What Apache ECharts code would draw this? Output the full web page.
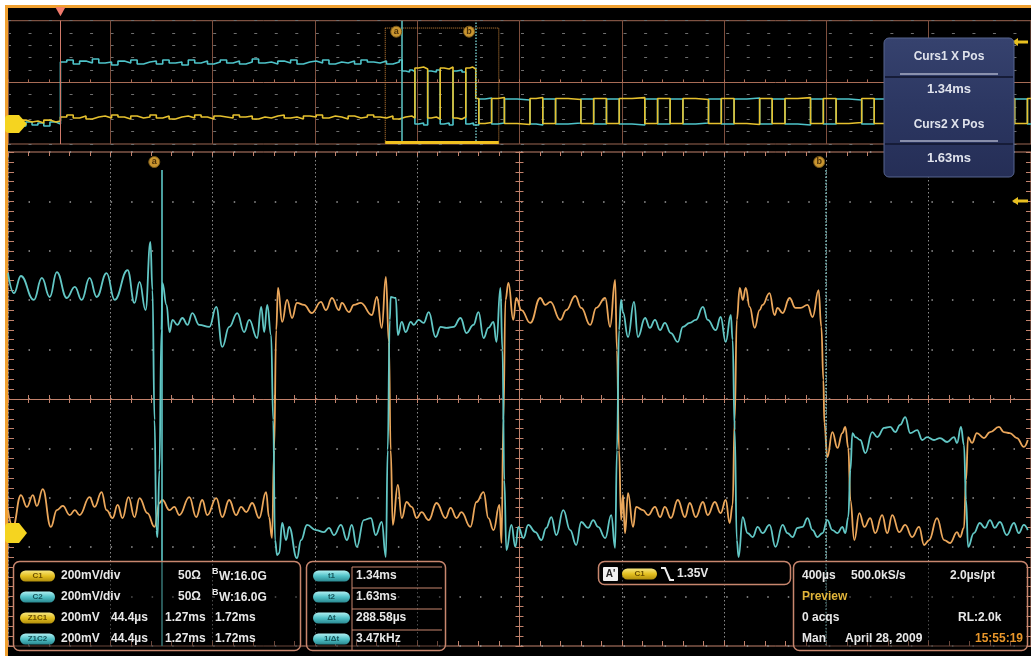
<!DOCTYPE html>
<html><head><meta charset="utf-8">
<script src="https://cdn.jsdelivr.net/npm/echarts@6/dist/echarts.min.js"></script>
<style>html,body{margin:0;padding:0;background:#fff;}#c{width:1031px;height:656px;}</style>
</head><body><div id="c"></div><script>
// ---------------- data (time in µs after trigger, level in mV) ----------------
const mainC2 = [[1270.0,510],[1272.6,429],[1275.6,498],[1281.2,401],[1284.7,490],[1288.1,413],[1291.2,514],[1295.5,409],[1299.0,454],[1302.0,401],[1305.4,490],[1308.5,413],[1312.8,510],[1316.3,401],[1321.9,522],[1324.9,389],[1327.1,474],[1329.7,360],[1331.8,636],[1332.7,441],[1333.6,-85],[1334.4,-531],[1334.9,-559],[1335.7,-288],[1336.6,279],[1337.0,470],[1338.8,381],[1340.1,271],[1341.4,320],[1343.5,300],[1345.7,328],[1347.9,300],[1350.0,348],[1353.0,300],[1357.4,292],[1360.4,373],[1363.0,211],[1366.0,292],[1369.5,348],[1372.5,271],[1374.7,320],[1378.1,247],[1379.9,373],[1381.2,271],[1382.5,381],[1384.2,259],[1385.1,-85],[1385.9,-571],[1386.8,-632],[1387.7,-624],[1389.0,-502],[1390.7,-571],[1392.0,-518],[1395.4,-644],[1397.2,-571],[1399.8,-510],[1403.7,-531],[1407.1,-539],[1409.3,-522],[1411.5,-551],[1414.5,-510],[1417.1,-571],[1419.2,-510],[1421.4,-599],[1424.4,-490],[1427.5,-482],[1429.6,-551],[1432.2,-498],[1434.0,-640],[1434.8,-207],[1435.7,320],[1436.1,413],[1438.3,409],[1439.2,259],[1440.9,312],[1442.6,271],[1444.8,312],[1446.1,300],[1448.2,320],[1450.4,308],[1452.6,352],[1455.6,251],[1457.8,292],[1460.3,288],[1463.4,292],[1466.4,328],[1469.0,267],[1472.0,300],[1474.2,352],[1476.4,247],[1478.5,288],[1480.7,312],[1482.0,231],[1483.7,450],[1484.6,198],[1485.4,-328],[1486.3,-612],[1488.5,-510],[1490.2,-599],[1491.5,-518],[1493.7,-563],[1495.8,-510],[1498.9,-539],[1501.5,-571],[1503.6,-522],[1505.8,-478],[1508.0,-551],[1511.0,-450],[1514.0,-531],[1516.6,-591],[1518.8,-498],[1521.8,-522],[1524.0,-490],[1526.1,-518],[1529.2,-563],[1531.8,-470],[1533.5,-603],[1534.3,-207],[1535.2,279],[1536.1,401],[1536.9,352],[1539.1,251],[1541.7,393],[1543.4,251],[1546.5,328],[1548.6,288],[1550.8,320],[1553.0,279],[1555.1,308],[1557.7,267],[1560.7,231],[1562.9,292],[1565.9,308],[1568.5,320],[1571.6,373],[1573.7,320],[1577.2,279],[1579.3,332],[1581.5,231],[1583.7,340],[1584.5,239],[1585.4,-126],[1586.3,-571],[1587.1,-640],[1588.9,-478],[1591.0,-543],[1593.2,-559],[1595.4,-518],[1597.5,-543],[1600.5,-510],[1603.1,-599],[1606.2,-510],[1608.3,-543],[1610.5,-559],[1612.7,-522],[1614.8,-518],[1617.0,-482],[1619.2,-531],[1621.3,-559],[1623.5,-543],[1625.6,-490],[1627.8,-531],[1630.0,-543],[1632.1,-518],[1633.4,-543],[1634.7,-478],[1635.6,-288],[1636.5,-138],[1637.8,-154],[1639.9,-166],[1642.1,-219],[1645.1,-134],[1647.3,-154],[1650.3,-117],[1652.9,-113],[1655.1,-134],[1657.2,-105],[1659.4,-73],[1661.6,-138],[1664.6,-126],[1666.8,-166],[1668.9,-154],[1671.9,-166],[1674.5,-158],[1677.6,-174],[1680.6,-154],[1681.9,-178],[1683.6,-113],[1684.9,-186],[1685.8,-409],[1686.7,-599],[1689.2,-543],[1691.8,-502],[1694.0,-522],[1696.2,-490],[1698.3,-522],[1700.5,-498],[1703.5,-551],[1706.6,-502],[1708.7,-543],[1710.9,-510],[1712.6,-531]];

const mainC1 = [[1270.0,-450],[1272.1,-518],[1275.6,-389],[1278.2,-437],[1280.8,-389],[1282.5,-433],[1285.1,-365],[1288.6,-518],[1291.2,-450],[1293.8,-433],[1296.8,-470],[1299.0,-450],[1301.1,-470],[1305.4,-397],[1307.6,-437],[1310.6,-377],[1312.8,-450],[1315.4,-482],[1317.6,-429],[1319.7,-482],[1322.3,-397],[1324.9,-478],[1327.1,-401],[1330.5,-462],[1333.6,-518],[1335.7,-421],[1337.0,-409],[1340.1,-450],[1342.2,-437],[1344.4,-470],[1348.7,-397],[1351.7,-478],[1354.3,-409],[1356.5,-470],[1360.4,-401],[1363.0,-478],[1366.0,-409],[1369.0,-470],[1371.2,-437],[1373.4,-458],[1376.0,-421],[1379.0,-482],[1382.0,-377],[1383.3,-478],[1384.6,-563],[1385.5,-207],[1386.4,279],[1387.2,450],[1389.0,312],[1391.1,401],[1393.3,328],[1395.4,389],[1398.5,381],[1401.9,348],[1405.8,393],[1408.0,360],[1410.6,409],[1413.6,360],[1414.9,389],[1418.0,352],[1420.1,381],[1423.1,389],[1427.9,340],[1430.1,413],[1432.2,288],[1434.0,494],[1435.3,231],[1436.1,-207],[1437.0,-510],[1439.2,-348],[1440.9,-482],[1443.0,-417],[1445.2,-437],[1447.4,-482],[1449.5,-458],[1452.6,-490],[1456.0,-421],[1459.9,-482],[1462.1,-441],[1464.7,-482],[1466.8,-458],[1470.7,-518],[1473.3,-417],[1476.4,-377],[1478.5,-482],[1480.7,-531],[1483.3,-429],[1484.2,-583],[1485.0,-85],[1485.9,401],[1487.2,470],[1489.3,320],[1490.6,409],[1492.8,360],[1496.7,308],[1501.0,409],[1503.2,381],[1505.4,393],[1509.7,320],[1512.3,360],[1516.2,417],[1518.8,369],[1522.7,300],[1525.3,369],[1529.2,409],[1531.3,292],[1533.5,482],[1534.3,198],[1535.2,-207],[1536.1,-490],[1536.9,-389],[1537.8,-543],[1539.1,-381],[1541.3,-518],[1542.6,-437],[1545.6,-450],[1547.8,-470],[1550.8,-437],[1553.0,-478],[1555.1,-437],[1557.7,-482],[1560.7,-409],[1563.8,-478],[1565.9,-421],[1568.5,-478],[1571.6,-417],[1573.7,-470],[1576.8,-417],[1579.3,-462],[1581.5,-409],[1583.2,-502],[1584.5,-429],[1585.4,-85],[1586.3,320],[1587.6,450],[1588.9,401],[1590.2,450],[1591.9,373],[1594.1,288],[1596.2,360],[1597.5,381],[1600.5,429],[1602.7,340],[1604.0,369],[1606.2,348],[1609.2,409],[1611.8,369],[1614.0,369],[1617.0,381],[1619.2,332],[1621.8,441],[1623.0,292],[1623.9,77],[1624.3,-97],[1625.6,-235],[1627.8,-134],[1630.0,-198],[1632.1,-138],[1633.4,-113],[1634.7,-198],[1635.6,-409],[1637.3,-571],[1639.5,-462],[1641.7,-518],[1644.2,-482],[1646.4,-543],[1649.4,-470],[1651.6,-543],[1653.8,-470],[1656.8,-539],[1659.4,-510],[1662.4,-559],[1665.4,-518],[1667.6,-591],[1669.8,-571],[1673.2,-482],[1676.3,-571],[1678.9,-583],[1681.9,-539],[1683.2,-559],[1684.9,-522],[1685.8,-328],[1686.7,-154],[1688.4,-178],[1690.5,-138],[1693.6,-158],[1696.2,-134],[1700.1,-113],[1702.2,-134],[1704.8,-138],[1707.9,-158],[1710.9,-194],[1712.6,-166]];

const overviewC2 = [[-205,-693],[-182,-660],[-158,-709],[-135,-644],[-111,-693],[-88,-660],[-65,-709],[-41,-644],[-18,-676],[0,329],[25,362],[50,297],[75,345],[100,313],[125,378],[150,313],[175,329],[200,281],[225,345],[250,313],[275,362],[300,297],[325,329],[350,345],[375,297],[400,362],[425,313],[450,329],[475,281],[500,362],[525,313],[550,345],[575,297],[600,329],[625,362],[650,313],[675,345],[700,297],[725,329],[750,378],[775,313],[800,329],[825,297],[850,345],[875,313],[900,362],[925,297],[950,329],[975,345],[1000,313],[1025,362],[1050,297],[1075,329],[1100,313],[1125,345],[1150,297],[1175,362],[1200,329],[1225,313],[1250,345],[1275,297],[1300,329],[1325,362],[1336,183],[1350,167],[1365,200],[1375,175],[1386,-676],[1400,-660],[1420,-693],[1436,183],[1450,167],[1470,200],[1485,-676],[1500,-660],[1520,-693],[1535,183],[1550,200],[1570,167],[1585,-676],[1600,-660],[1615,-693],[1636,-271],[1660,-255],[1686,-676],[1710,-660],[1736,-271],[1786,-287],[1836,-676],[1860,-693],[1886,-271],[1936,-676],[1985,-660],[2035,-271],[2085,-676],[2135,-271],[2185,-676],[2235,-693],[2285,-271],[2335,-676],[2384,-271],[2434,-676],[2484,-660],[2534,-271],[2584,-676],[2634,-271],[2684,-255],[2734,-676],[2783,-271],[2833,-676],[2883,-693],[2933,-271],[2983,-676],[3033,-271],[3083,-287],[3133,-676],[3182,-271],[3232,-255],[3282,-676],[3332,-271],[3382,-676],[3432,-660],[3482,-271],[3532,-676],[3581,-271],[3631,-287],[3681,-676],[3731,-271],[3781,-676],[3795,-676]];

const overviewC1 = [[-205,-628],[-182,-660],[-158,-612],[-135,-644],[-111,-628],[-88,-660],[-65,-612],[-41,-644],[-18,-628],[0,-563],[25,-530],[50,-579],[75,-547],[100,-595],[125,-563],[150,-547],[175,-579],[200,-530],[225,-563],[250,-595],[275,-547],[300,-579],[325,-563],[350,-530],[375,-579],[400,-547],[425,-595],[450,-563],[475,-547],[500,-579],[525,-530],[550,-563],[575,-595],[600,-547],[625,-563],[650,-579],[675,-530],[700,-563],[725,-547],[750,-595],[775,-563],[800,-579],[825,-547],[850,-530],[875,-579],[900,-563],[925,-595],[950,-547],[975,-563],[1000,-530],[1025,-579],[1050,-547],[1075,-563],[1100,-595],[1125,-547],[1150,-579],[1175,-563],[1200,-530],[1225,-563],[1250,-579],[1275,-547],[1300,-595],[1325,-563],[1350,-547],[1375,-579],[1386,232],[1400,248],[1420,216],[1436,-579],[1450,-563],[1470,-595],[1485,232],[1500,216],[1520,248],[1535,-579],[1550,-595],[1570,-563],[1585,232],[1600,248],[1612,216],[1624,-263],[1636,-668],[1660,-652],[1686,-263],[1710,-247],[1736,-668],[1786,-684],[1836,-263],[1860,-247],[1886,-668],[1936,-263],[1985,-279],[2035,-668],[2085,-263],[2135,-668],[2185,-263],[2235,-247],[2285,-668],[2335,-263],[2384,-668],[2434,-263],[2484,-279],[2534,-668],[2584,-263],[2634,-668],[2684,-684],[2734,-263],[2783,-668],[2833,-263],[2883,-247],[2933,-668],[2983,-263],[3033,-668],[3083,-652],[3133,-263],[3182,-668],[3232,-684],[3282,-263],[3332,-668],[3382,-263],[3432,-279],[3482,-668],[3532,-263],[3581,-668],[3631,-652],[3681,-263],[3731,-668],[3781,-263],[3795,-263]];

const cursor1 = 1336.52;          // µs
const cursor2 = 1625.10;          // µs
const zoomStart = 1270, zoomEnd = 1714;          // main window, µs
const recordStart = -205, recordEnd = 3795;       // overview record, µs
const triggerTime = 0;
const zoomBoxTop = 881, zoomBoxBottom = -985, zoomBarLevel = -965;   // mV on overview
const cursorLineTop = 927;                                           // mV on main view
const c1GroundMain = -543, c1GroundOverview = -676;                  // mV
const trigLevelMain = 802, trigLevelOverview = 654;                  // mV

const channelRows = [['C1','200mV/div','50Ω','W:16.0G'],['C2','200mV/div','50Ω','W:16.0G']];
const zoomRows = [['Z1C1','200mV','44.4µs','1.27ms','1.72ms'],['Z1C2','200mV','44.4µs','1.27ms','1.72ms']];
const measLabels = ['t1','t2','Δt','1/Δt'];
const acqRows = [['400µs','500.0kS/s','2.0µs/pt'],['Preview'],['0 acqs','RL:2.0k'],['Man','April 28, 2009','15:55:19']];
const trigInfo = ["A'", 'C1', '1.35V'];

// ---------------- styling helpers ----------------
const FONT = '"Liberation Sans", Arial, sans-serif';
const SALMON = '#c2826c';
const CYAN = '#62c7c5', ORANGE = '#eba75b';
function T(x, y, s, size, color, align) {
  return {type:'text', x:x, y:y, z:120, silent:true, style:{text:s, fill:color||'#e8e8e8',
    font:'bold '+(size||12)+'px '+FONT, textAlign:align||'left', textVerticalAlign:'middle',
    align:align||'left', verticalAlign:'middle'}};
}
function R(x,y,w,h,r,fill,stroke,lw,z){ return {type:'rect', z:z||100, silent:true, shape:{x:x,y:y,width:w,height:h,r:r}, style:{fill:fill, stroke:stroke||null, lineWidth:lw||1}}; }
function L(x1,y1,x2,y2,color,lw,z){ return {type:'line', z:z||105, silent:true, shape:{x1:x1,y1:y1,x2:x2,y2:y2}, style:{stroke:color, lineWidth:lw||1}}; }
function grad(a,b,c){ return {type:'linear',x:0,y:0,x2:0,y2:1,colorStops:[{offset:0,color:a},{offset:0.5,color:b},{offset:1,color:c}]}; }
function pill(x, cy, w, label, kind) {
  const yel = kind === 'y';
  return [R(x, cy-5.5, w, 11, 5.5, yel ? grad('#f7e680','#e4c020','#b08d0c') : grad('#b0f0f2','#52c2c8','#2a8890'), null, 1, 110),
          T(x + w/2, cy, label, 8, yel ? '#6a4e00' : '#15555a', 'center')];
}

const fmtMs = v => (v/1000).toFixed(2) + 'ms';
const dT = cursor2 - cursor1;
const measValues = [fmtMs(cursor1), fmtMs(cursor2), dT.toFixed(2)+'µs', (1000/dT).toFixed(2)+'kHz'];

// ---------------- graphic overlay ----------------
const g = [];
g.push(R(0,0,1031,5,0,'#ffffff',null,1,1));
g.push(R(0,0,5,656,0,'#ffffff',null,1,1));
g.push(R(5,5,1026,3,0,'#f0a030',null,1,1));
g.push(R(5,5,3,651,0,'#f0a030',null,1,1));

// cursor readout box
g.push(R(884,38,130,139,5,grad('#36426e','#2c3762','#252e56'),'#56648e',1,100));
g.push(L(900,74,998,74,'#a8aec6',1.5)); g.push(L(885,77,1013,77,'#161c38',2));
g.push(L(900,141,998,141,'#a8aec6',1.5)); g.push(L(885,144,1013,144,'#161c38',2));
g.push(T(949,57,'Curs1 X Pos',12,'#e0e3ec','center'));
g.push(T(949,89,fmtMs(cursor1),13,'#e0e3ec','center'));
g.push(T(949,125,'Curs2 X Pos',12,'#e0e3ec','center'));
g.push(T(949,158,fmtMs(cursor2),13,'#e0e3ec','center'));

// bottom box 1 : channels
const rowY = [576, 597, 618, 639];
g.push(R(13.5,561.5,287,89,6,'rgba(0,0,0,0.45)','#c8866e',1.5,100));
channelRows.forEach((r,i)=>{
  const y = rowY[i];
  g.push(...pill(20, y, 35, r[0], i===0?'y':'c'));
  g.push(T(61,y,r[1])); g.push(T(178,y,r[2]));
  g.push(T(212,y-4,'B',9)); g.push(T(219,y+1,r[3]));
});
zoomRows.forEach((r,i)=>{
  const y = rowY[i+2];
  g.push(...pill(20, y, 35, r[0], i===0?'y':'c'));
  g.push(T(61,y,r[1])); g.push(T(111,y,r[2])); g.push(T(165,y,r[3])); g.push(T(215,y,r[4]));
});

// bottom box 2 : cursor measurements
g.push(R(306.5,561.5,139,89,6,'rgba(0,0,0,0.45)','#c8866e',1.5,100));
[567,588,609,630].forEach(y=>g.push(L(352,y,442,y,'#c8866e',1)));
g.push(L(352,567,352,651,'#c8866e',1));
measLabels.forEach((s,i)=>{
  const y = rowY[i];
  g.push(...pill(313, y, 37, s, 'c'));
  g.push(T(356,y,measValues[i]));
});

// bottom box 3 : trigger
g.push(R(598.5,561.5,192,23,6,'rgba(0,0,0,0.45)','#c8866e',1.5,100));
g.push(R(603,567,15,14,1,'#f0f0f0',null,1,110));
g.push(T(610.5,574,trigInfo[0],10,'#222','center'));
g.push(...pill(622, 574, 35, trigInfo[1], 'y'));
g.push({type:'polyline', z:110, silent:true, shape:{points:[[661,568],[665,568],[670,580],[674,580]]}, style:{stroke:'#f0f0f0', lineWidth:2, fill:null}});
g.push(T(677,574,trigInfo[2]));

// bottom box 4 : acquisition
g.push(R(793.5,561.5,234,89,6,'rgba(0,0,0,0.45)','#c8866e',1.5,100));
g.push(T(802,rowY[0],acqRows[0][0])); g.push(T(851,rowY[0],acqRows[0][1])); g.push(T(950,rowY[0],acqRows[0][2]));
g.push(T(802,rowY[1],acqRows[1][0],12,'#e0b43a'));
g.push(T(802,rowY[2],acqRows[2][0])); g.push(T(958,rowY[2],acqRows[2][1]));
g.push(T(802,rowY[3],acqRows[3][0])); g.push(T(845,rowY[3],acqRows[3][1])); g.push(T(975,rowY[3],acqRows[3][2],12,'#e8962a'));

// ---------------- axes ----------------
const hidden = (gi, min, max) => ({gridIndex:gi, type:'value', min:min, max:max, show:false});
const tickStyle = {color:SALMON, width:1};
function grat(gi, pos, opts) {
  return Object.assign({gridIndex:gi, type:'value', min:-5, max:5, interval:1, position:pos,
    axisLabel:{show:false}, splitLine:{show:false}}, opts);
}

const markerLabel = (name, coord, off) => ({coord:coord, symbol:'circle', symbolSize:11, symbolOffset:off,
  itemStyle:{color:'#c99530', borderColor:'#7a5a1a', borderWidth:1},
  label:{show:true, position:'inside', formatter:name, color:'#4a3008', fontSize:9, fontWeight:'bold', fontFamily:FONT}});
const groundShape = 'path://M4,0 L14,0 L22,9 L14,18 L4,18 Q0,18 0,14 L0,4 Q0,0 4,0 Z';
const leftArrow = 'path://M0,4 L6,0 L6,2.5 L16,2.5 L16,5.5 L6,5.5 L6,8 Z';

const option = {
  backgroundColor:'#000',
  animation:false,
  grid:[
    {left:8, top:20.7, width:1026, height:123.3, show:true, borderColor:'#9c6652', borderWidth:1},
    {left:8, top:20.7, width:1026, height:123.3},
    {left:8, top:152, width:1026, height:494, show:true, borderColor:SALMON, borderWidth:1},
    {left:8, top:152, width:1026, height:494},
    {left:8, top:152, width:1026, height:494}
  ],
  xAxis:[
    hidden(0, recordStart, recordEnd),
    grat(1,'bottom',{axisLine:{show:true,onZero:true,lineStyle:{color:'#a86c56'}}, axisTick:{show:true,inside:true,length:3,lineStyle:{color:'#a86c56'}}, minorTick:{show:true,splitNumber:5,length:3,lineStyle:{color:'#a86c56'}}, splitLine:{show:true,lineStyle:{color:'#7e4f3e',width:1}}}),
    hidden(2, zoomStart, zoomEnd),
    grat(3,'bottom',{axisLine:{show:true,onZero:true,lineStyle:tickStyle}, axisTick:{show:true,inside:true,length:4,lineStyle:tickStyle}, minorTick:{show:true,splitNumber:5,length:4,lineStyle:tickStyle}, splitLine:{show:true,lineStyle:{color:'#8a8a8a',width:1,type:[1.5,2.5]}}}),
    grat(3,'top',{axisLine:{show:true,onZero:true,lineStyle:tickStyle}, axisTick:{show:true,inside:true,length:4,lineStyle:tickStyle}, minorTick:{show:true,splitNumber:5,length:4,lineStyle:tickStyle}}),
    grat(4,'bottom',{axisLine:{show:false,onZero:false}, axisTick:{show:true,inside:true,length:5,lineStyle:tickStyle}, minorTick:{show:true,splitNumber:5,length:5,lineStyle:tickStyle}}),
    grat(4,'top',{axisLine:{show:false,onZero:false}, axisTick:{show:true,inside:true,length:4,lineStyle:tickStyle}, minorTick:{show:true,splitNumber:5,length:4,lineStyle:tickStyle}})
  ],
  yAxis:[
    hidden(0, -1000, 1000),
    grat(1,'left',{axisLine:{show:false}, axisTick:{show:false}, splitLine:{show:true,lineStyle:{color:'#6e6e6e',width:1,type:[3,17.52]}}}),
    hidden(2, -1000, 1000),
    grat(3,'left',{axisLine:{show:true,onZero:true,lineStyle:tickStyle}, axisTick:{show:true,inside:true,length:4,lineStyle:tickStyle}, minorTick:{show:true,splitNumber:5,length:4,lineStyle:tickStyle}, splitLine:{show:true,lineStyle:{color:'#9a9a9a',width:1.5,type:[1.5,19.02]}}}),
    grat(3,'right',{axisLine:{show:true,onZero:true,lineStyle:tickStyle}, axisTick:{show:true,inside:true,length:4,lineStyle:tickStyle}, minorTick:{show:true,splitNumber:5,length:4,lineStyle:tickStyle}}),
    grat(4,'left',{axisLine:{show:false,onZero:false}, axisTick:{show:true,inside:true,length:6,lineStyle:tickStyle}, minorTick:{show:true,splitNumber:5,length:6,lineStyle:tickStyle}}),
    grat(4,'right',{axisLine:{show:false,onZero:false}, axisTick:{show:true,inside:true,length:5,lineStyle:tickStyle}, minorTick:{show:true,splitNumber:5,length:5,lineStyle:tickStyle}})
  ],
  series:[
    {type:'line', name:'C2 overview', xAxisIndex:0, yAxisIndex:0, data:overviewC2, step:'end', showSymbol:false, silent:true, z:3,
     lineStyle:{color:'#4ec3c9', width:1.6},
     markLine:{silent:true, symbol:['none','none'], label:{show:false},
       data:[{xAxis:cursor1, lineStyle:{color:'#5ec8c8',width:1.5,type:'solid'}},
             {xAxis:cursor2, lineStyle:{color:'#6fc0c0',width:1.5,type:'dotted'}}]},
     markPoint:{silent:true, data:[markerLabel('a',[cursor1,1000],[-6,11]), markerLabel('b',[cursor2,1000],[-7,11])]}},
    {type:'line', name:'C1 overview', xAxisIndex:0, yAxisIndex:0, data:overviewC1, step:'end', showSymbol:false, silent:true, z:4,
     lineStyle:{color:'#e6c12e', width:1.6},
     markArea:{silent:true, itemStyle:{color:'rgba(0,0,0,0)', borderColor:'#d0883a', borderWidth:1, borderType:'dotted'},
       data:[[{coord:[zoomStart, zoomBoxTop]},{coord:[zoomEnd, zoomBoxBottom]}]]},
     markLine:{silent:true, symbol:['none','none'], label:{show:false},
       data:[[{coord:[zoomStart, zoomBarLevel], lineStyle:{color:'#f0c020',width:3,type:'solid'}},{coord:[zoomEnd, zoomBarLevel]}],
             {xAxis:triggerTime, lineStyle:{color:'#d07a6a',width:1,type:'solid'}}]},
     markPoint:{silent:true, data:[
       {coord:[triggerTime,1000], symbol:'triangle', symbolRotate:180, symbolSize:[10,9], symbolOffset:[0,-9], itemStyle:{color:'#f07a6c'}, label:{show:false}},
       {coord:[recordStart,c1GroundOverview], symbol:groundShape, symbolSize:[22,18], symbolOffset:[8,0], itemStyle:{color:'#f5d420'}, label:{show:false}},
       {coord:[recordEnd,trigLevelOverview], symbol:leftArrow, symbolSize:[16,8], symbolOffset:[-11,0], itemStyle:{color:'#e8c020'}, label:{show:false}}]}},
    {type:'line', name:'C1', xAxisIndex:2, yAxisIndex:2, data:mainC1, smooth:0.45, smoothMonotone:'x', showSymbol:false, silent:true, z:3,
     lineStyle:{color:ORANGE, width:1.8},
     markPoint:{silent:true, data:[
       {coord:[zoomStart,c1GroundMain], symbol:groundShape, symbolSize:[22,20], symbolOffset:[8,0], itemStyle:{color:'#f5d420'}, label:{show:false}},
       {coord:[zoomEnd,trigLevelMain], symbol:leftArrow, symbolSize:[16,8], symbolOffset:[-11,0], itemStyle:{color:'#e8c020'}, label:{show:false}}]}},
    {type:'line', name:'C2', xAxisIndex:2, yAxisIndex:2, data:mainC2, smooth:0.45, smoothMonotone:'x', showSymbol:false, silent:true, z:4,
     lineStyle:{color:CYAN, width:1.8},
     markLine:{silent:true, symbol:['none','none'], label:{show:false},
       data:[[{coord:[cursor1, cursorLineTop], lineStyle:{color:'#5ec8c8',width:1.6,type:'solid'}},{coord:[cursor1,-1000]}],
             [{coord:[cursor2, cursorLineTop], lineStyle:{color:'#7ab8b8',width:1.6,type:'dotted'}},{coord:[cursor2,-1000]}]]},
     markPoint:{silent:true, data:[markerLabel('a',[cursor1,1000],[-7,10]), markerLabel('b',[cursor2,1000],[-7,10])]}}
  ],
  graphic:{elements:g}
};
const chart = echarts.init(document.getElementById('c'), null, {renderer:'canvas'});
chart.setOption(option);
</script></body></html>
